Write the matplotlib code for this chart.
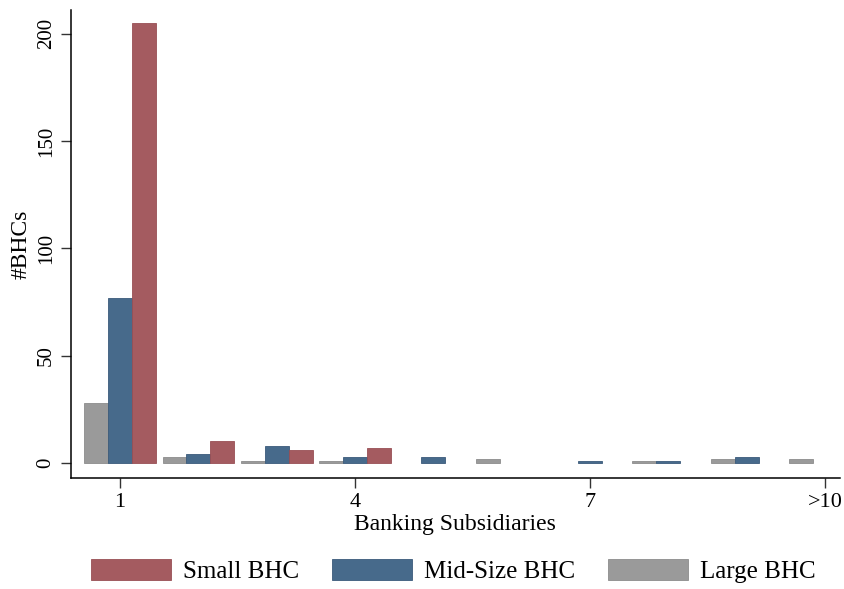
import numpy as np
import matplotlib
matplotlib.use('Agg')
import matplotlib.pyplot as plt

# Number of BHCs by count of banking subsidiaries (1..9, >10)
subsidiaries = [1, 2, 3, 4, 5, 6, 7, 8, 9, 10]
tick_labels = ['1', '4', '7', '>10']
small_bhc = [205, 10, 6, 7, 0, 0, 0, 0, 0, 0]
mid_bhc = [77, 4, 8, 3, 3, 0, 1, 1, 3, 0]
large_bhc = [28, 3, 1, 1, 0, 2, 0, 1, 2, 2]

plt.rcParams['font.family'] = ['Liberation Serif', 'DejaVu Serif']

red = '#a45b60'
blue = '#476a8b'
gray = '#9a9a9a'

fig = plt.figure(figsize=(8.44, 5.89), dpi=100)
ax = fig.add_axes([0.0841, 0.1885, 0.911, 0.7945])

x = np.array(subsidiaries)
w = 0.305


def edge_widths(vals):
    # no outline on empty bars, otherwise a flat line shows on the baseline
    return [0.6 if v > 0 else 0 for v in vals]


ax.bar(x - w, large_bhc, w, color=gray, edgecolor='#8c8c8c',
       linewidth=edge_widths(large_bhc), label='Large BHC')
ax.bar(x, mid_bhc, w, color=blue, edgecolor='#3b5a7a',
       linewidth=edge_widths(mid_bhc), label='Mid-Size BHC')
ax.bar(x + w, small_bhc, w, color=red, edgecolor='#984f55',
       linewidth=edge_widths(small_bhc), label='Small BHC')

ax.set_xlim(0.374, 10.19)
ax.set_ylim(-7, 211)
ax.set_xticks([1, 4, 7, 10])
ax.set_xticklabels(tick_labels, fontsize=16)
ax.set_yticks([0, 50, 100, 150, 200])
ax.set_yticklabels(['0', '50', '100', '150', '200'], fontsize=15, rotation=90, va='center')
ax.tick_params(axis='both', length=7, width=1, color='#333333')
ax.tick_params(axis='x', pad=4)
ax.tick_params(axis='y', pad=4)

for side in ['top', 'right']:
    ax.spines[side].set_visible(False)
ax.spines['left'].set_linewidth(1.1)
ax.spines['bottom'].set_linewidth(1.1)

ax.set_xlabel('Banking Subsidiaries', fontsize=17, labelpad=1)
ax.set_ylabel('#BHCs', fontsize=17, labelpad=4)

handles, labels = ax.get_legend_handles_labels()
order = [2, 1, 0]
fig.legend([handles[i] for i in order], [labels[i] for i in order],
           loc='center', bbox_to_anchor=(0.537, 0.03), ncol=3, frameon=False,
           fontsize=18, handlelength=3.2, handleheight=0.9, columnspacing=1.3,
           handletextpad=0.5)

plt.savefig('out.png', dpi=100)
